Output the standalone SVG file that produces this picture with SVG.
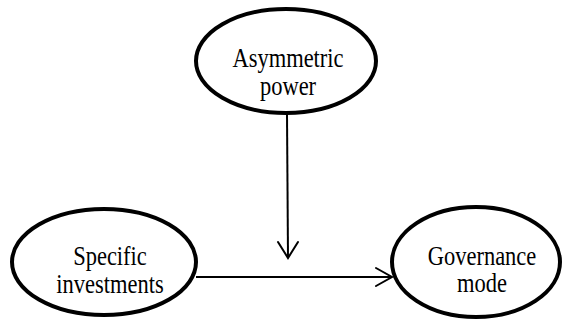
<svg xmlns="http://www.w3.org/2000/svg" width="562" height="320" viewBox="0 0 562 320">
  <style>
    .node ellipse { fill: #ffffff; stroke: #000000; stroke-width: 4; }
    .node text { font-family: "Liberation Serif", "Times New Roman", serif; font-size: 22.5px; fill: #000000; text-anchor: middle; }
    .edge { fill: none; stroke: #000000; stroke-width: 2; }
    .head { fill: none; stroke: #000000; stroke-width: 2; stroke-linecap: round; stroke-linejoin: miter; }
  </style>
  <rect width="562" height="320" fill="#ffffff"/>
  <g id="connectors">
    <line class="edge" x1="287" y1="114" x2="288" y2="258"/>
    <polyline class="head" points="278,242 288,258 298,242"/>
    <line class="edge" x1="196" y1="277" x2="392" y2="277"/>
    <polyline class="head" points="376,268 392,277 376,286"/>
  </g>
  <!-- labels are drawn slightly tall: scaled vertically about their baselines -->
  <g id="asymmetric-power" class="node">
    <ellipse cx="286" cy="61" rx="90" ry="52"/>
    <text transform="translate(288,67) scale(1,1.25)">Asymmetric</text>
    <text transform="translate(288,95) scale(1,1.25)">power</text>
  </g>
  <g id="specific-investments" class="node">
    <ellipse cx="104" cy="262" rx="92" ry="53"/>
    <text transform="translate(110,265) scale(1,1.25)">Specific</text>
    <text transform="translate(110,293) scale(1,1.25)">investments</text>
  </g>
  <g id="governance-mode" class="node">
    <ellipse cx="476" cy="262" rx="84" ry="55"/>
    <text transform="translate(482,265) scale(1,1.25)">Governance</text>
    <text transform="translate(482,292) scale(1,1.25)">mode</text>
  </g>
</svg>
